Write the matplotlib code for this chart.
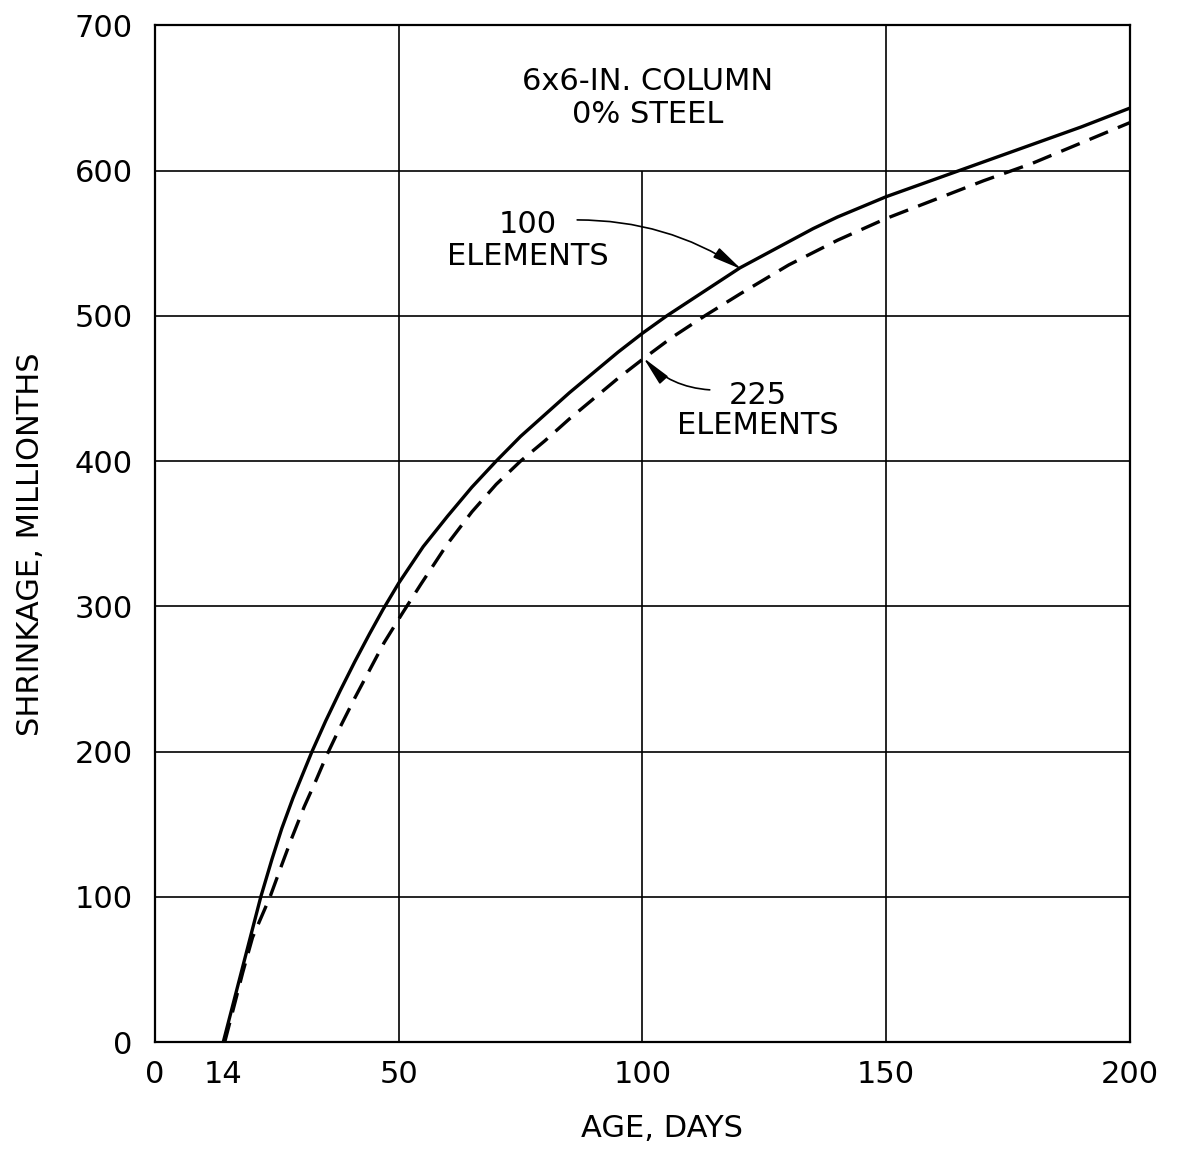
import matplotlib
matplotlib.use("Agg")
import matplotlib.pyplot as plt

plt.rcParams['font.family'] = ['DejaVu Sans']

# Shrinkage vs. age, 6x6-in. column, 0% steel
age_100 = [14, 16, 18, 20, 21.7, 24, 26, 28.3, 30, 32.2, 35, 38, 41, 44, 46.8, 50,
           55, 60, 65, 70, 75, 80, 85, 90, 95, 100, 105, 110, 115, 120, 125, 130,
           135, 140, 145, 150, 155, 160, 165, 170, 180, 190, 200]
shrink_100 = [0, 26, 52, 78, 100, 126, 147, 168, 182, 200, 221, 242, 262, 281, 298,
              316, 341, 362, 382, 400, 417, 432, 447, 461, 475, 488, 500, 511, 522,
              533, 542, 551, 560, 568, 575, 582, 588, 594, 600, 606, 618, 630, 643]

age_225 = [14.3, 16, 18, 20, 23.6, 26, 28, 30.6, 33, 35.3, 38, 41, 44, 47, 50.7,
           54.5, 60, 65, 70, 75, 80, 85, 90, 95, 100, 106, 112.8, 120, 130, 140,
           150, 160, 170, 175, 180, 190, 200]
shrink_225 = [0, 22, 48, 72, 100, 122, 140, 162, 180, 198, 217, 237, 256, 275, 295,
              315, 343, 365, 384, 400, 414, 429, 443, 457, 470, 485, 500, 515, 535,
              552, 567, 580, 593, 599, 605, 619, 633]

x_ticks = [0, 14, 50, 100, 150, 200]
y_ticks = [0, 100, 200, 300, 400, 500, 600, 700]

fig = plt.figure(figsize=(11.79, 11.49), dpi=100)
ax = fig.add_axes([0.1315, 0.0931, 0.8269, 0.8849])
ax.set_xlim(0, 200)
ax.set_ylim(0, 700)

# grid: the x=100 line stops below the title block
grid_kw = dict(color='black', lw=1.2, zorder=1)
for y in [100, 200, 300, 400, 500, 600]:
    ax.hlines(y, 0, 200, **grid_kw)
ax.vlines(50, 0, 700, **grid_kw)
ax.vlines(100, 0, 600, **grid_kw)
ax.vlines(150, 0, 700, **grid_kw)

for s in ax.spines.values():
    s.set_linewidth(1.6)

ax.plot(age_100, shrink_100, color='black', lw=2.4, solid_capstyle='round',
        solid_joinstyle='round', zorder=3)
ax.plot(age_225, shrink_225, color='black', lw=2.4, linestyle=(0, (6, 3.2)), zorder=3)

ax.set_xticks(x_ticks)
ax.set_yticks(y_ticks)
ax.tick_params(length=0, labelsize=22, pad=13)
ax.tick_params(axis='y', pad=16)

ax.text(0.5197, -0.085, 'AGE, DAYS', transform=ax.transAxes, ha='center', va='center',
        fontsize=22)
ax.text(-0.128, 0.49, 'SHRINKAGE, MILLIONTHS', transform=ax.transAxes, rotation=90,
        ha='center', va='center', fontsize=22)

ax.text(101, 650, '6x6-IN. COLUMN\n0% STEEL', ha='center', va='center', fontsize=22,
        linespacing=1.2)
ax.text(76.5, 552, '100\nELEMENTS', ha='center', va='center', fontsize=22, linespacing=1.15)
ax.text(123.7, 435, '225\nELEMENTS', ha='center', va='center', fontsize=22, linespacing=1.05)

arrow_kw = dict(arrowstyle='-|>,head_length=0.9,head_width=0.17', color='black', lw=1.2,
                mutation_scale=20, shrinkA=0, shrinkB=0)
ax.annotate('', xy=(120.3, 532), xytext=(86.6, 566),
            arrowprops=dict(connectionstyle='arc3,rad=-0.15', **arrow_kw))
ax.annotate('', xy=(100.2, 471), xytext=(113.8, 449),
            arrowprops=dict(connectionstyle='arc3,rad=-0.2', **arrow_kw))

fig.savefig('out.png', dpi=100, facecolor='white')
